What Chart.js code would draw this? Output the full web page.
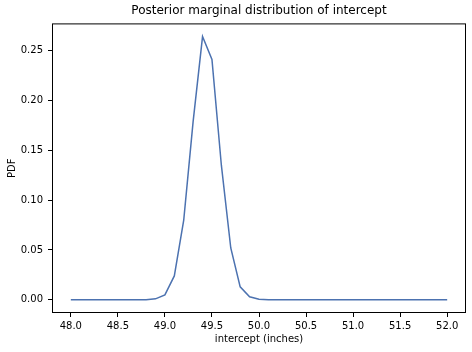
<!DOCTYPE html>
<html>
<head>
<meta charset="utf-8">
<script src="https://cdn.jsdelivr.net/npm/chart.js@4/dist/chart.umd.min.js"></script>
<style>
  html, body { margin: 0; padding: 0; background: #fff; }
  #wrap { width: 472px; height: 352px; }
</style>
</head>
<body>
<div id="wrap"><canvas id="pdfChart" width="472" height="352"></canvas></div>
<script>
// Intercept grid (inches) and the posterior density
const intercepts = [48.0, 48.1, 48.2, 48.3, 48.4, 48.5, 48.6, 48.7, 48.8, 48.9,
                    49.0, 49.1, 49.2, 49.3, 49.4, 49.5, 49.6, 49.7, 49.8, 49.9,
                    50.0, 50.1, 50.2, 50.3, 50.4, 50.5, 50.6, 50.7, 50.8, 50.9,
                    51.0, 51.1, 51.2, 51.3, 51.4, 51.5, 51.6, 51.7, 51.8, 51.9, 52.0];
const pdfValues = [0, 0, 0, 0, 0, 0, 0, 0, 0.0002, 0.001,
                   0.005, 0.024, 0.080, 0.179, 0.264, 0.241, 0.135, 0.052, 0.013, 0.003,
                   0.0005, 0, 0, 0, 0, 0, 0, 0, 0, 0,
                   0, 0, 0, 0, 0, 0, 0, 0, 0, 0, 0];

// Tick labels
const xTicks = [48.0, 48.5, 49.0, 49.5, 50.0, 50.5, 51.0, 51.5, 52.0];
const yTicks = [0.00, 0.05, 0.10, 0.15, 0.20, 0.25];

Chart.defaults.font.family = "'DejaVu Sans', sans-serif";
Chart.defaults.font.size = 10;
Chart.defaults.color = '#000';

// Draw the full axes frame like matplotlib spines
const frame = {
  id: 'frame',
  afterDraw(chart) {
    const a = chart.chartArea;
    const ctx = chart.ctx;
    ctx.save();
    ctx.strokeStyle = '#000';
    ctx.lineWidth = 1;
    ctx.strokeRect(a.left + 0.5, a.top + 0.5, a.right - a.left - 1, a.bottom - a.top - 1);
    ctx.restore();
  }
};

const points = intercepts.map((x, i) => ({x: x, y: pdfValues[i]}));

new Chart(document.getElementById('pdfChart'), {
  type: 'line',
  data: {
    datasets: [{
      data: points,
      borderColor: '#4c72b0',
      borderWidth: 1.5,
      pointRadius: 0,
      tension: 0,
      fill: false
    }]
  },
  options: {
    responsive: false,
    animation: false,
    layout: { padding: { left: 0, right: 6, top: 0, bottom: 0 } },
    plugins: {
      legend: { display: false },
      tooltip: { enabled: false },
      title: {
        display: true,
        fullSize: false,
        text: 'Posterior marginal distribution of intercept',
        font: { size: 12, weight: 'normal' },
        color: '#000',
        padding: { top: 4, bottom: 5 }
      }
    },
    scales: {
      x: {
        type: 'linear',
        min: 47.8,
        max: 52.2,
        afterBuildTicks(s) { s.ticks = xTicks.map(v => ({value: v})); },
        afterFit(s) { s.height = 39; },
        ticks: { callback: v => v.toFixed(1), padding: 3, maxRotation: 0, autoSkip: false },
        grid: { drawOnChartArea: false, drawTicks: true, tickLength: 4, color: '#000' },
        border: { display: false },
        title: { display: true, text: 'intercept (inches)', padding: { top: 0, bottom: 7 } }
      },
      y: {
        min: -0.0132,
        max: 0.2772,
        afterBuildTicks(s) { s.ticks = yTicks.map(v => ({value: v})); },
        afterFit(s) { s.width = 52; },
        ticks: { callback: v => v.toFixed(2), padding: 5, autoSkip: false },
        grid: { drawOnChartArea: false, drawTicks: true, tickLength: 4, color: '#000' },
        border: { display: false },
        title: { display: true, text: 'PDF', padding: { top: 6, bottom: 0 } }
      }
    }
  },
  plugins: [frame]
});
</script>
</body>
</html>
